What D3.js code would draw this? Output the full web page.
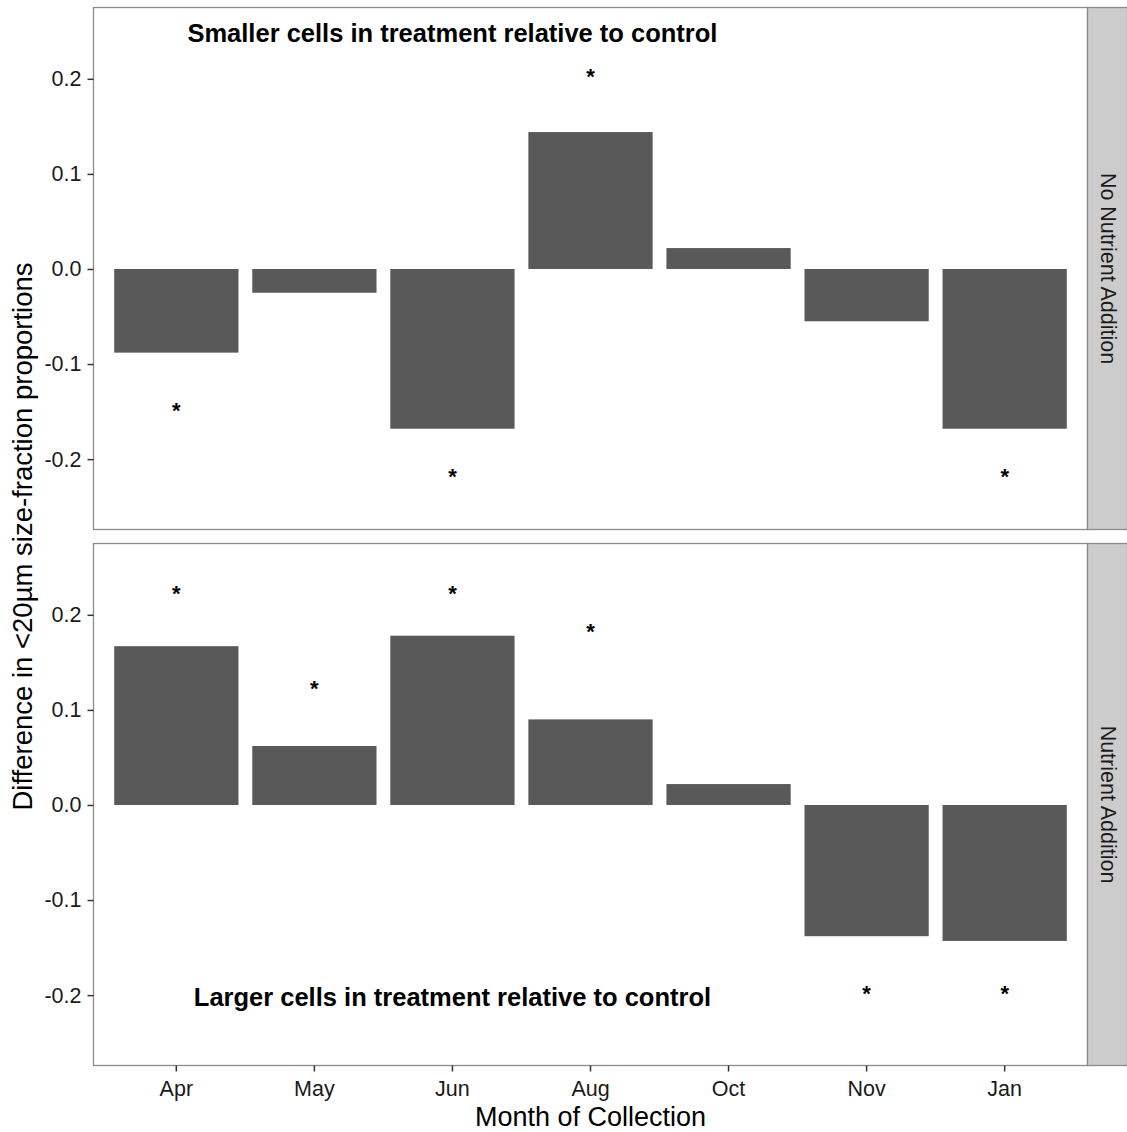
<!DOCTYPE html>
<html>
<head>
<meta charset="utf-8">
<script src="https://cdn.jsdelivr.net/npm/d3@7"></script>
<style>
  html, body { margin: 0; padding: 0; background: #fff; }
  svg { display: block; font-family: "Liberation Sans", Arial, sans-serif; }
</style>
</head>
<body>
<svg id="chart" width="1127" height="1132"></svg>
<script>
// Months of collection (x categories)
const months = ["Apr", "May", "Jun", "Aug", "Oct", "Nov", "Jan"];

// Facet labels
const facets = ["No Nutrient Addition", "Nutrient Addition"];

// Difference in <20µm size-fraction proportions, per facet
const noNutrientValues = [-0.088, -0.025, -0.168, 0.144, 0.022, -0.055, -0.168];
const nutrientValues   = [0.167, 0.062, 0.178, 0.090, 0.022, -0.138, -0.143];

// Significance markers: month and vertical position
const noNutrientStars = [
  { month: "Apr", y: -0.147 },
  { month: "Jun", y: -0.217 },
  { month: "Aug", y: 0.204 },
  { month: "Jan", y: -0.217 }
];
const nutrientStars = [
  { month: "Apr", y: 0.224 },
  { month: "May", y: 0.124 },
  { month: "Jun", y: 0.224 },
  { month: "Aug", y: 0.184 },
  { month: "Nov", y: -0.197 },
  { month: "Jan", y: -0.197 }
];

// Annotations inside the panels
const annotations = [
  { text: "Smaller cells in treatment relative to control", month: "Jun", y: 0.248 },
  { text: "Larger cells in treatment relative to control", month: "Jun", y: -0.202 }
];

const yTicks = [-0.2, -0.1, 0.0, 0.1, 0.2];
const yDomain = [-0.274, 0.275];

const svg = d3.select("#chart");

const plotLeft = 93.5, plotRight = 1087.5;
const stripWidth = 40;
const panelTops = [7.5, 543.5];
const panelHeight = 522;

// discrete axis: 0.6 units of expansion either side, bars 0.9 units wide
const x = d3.scaleBand()
  .domain(months)
  .range([plotLeft, plotRight])
  .paddingInner(0.1)
  .paddingOuter(0.15);

const fmtTick = v => d3.format(".1f")(v).replace("\u2212", "-");

const panelData = [
  { label: facets[0], values: noNutrientValues, stars: noNutrientStars, note: annotations[0] },
  { label: facets[1], values: nutrientValues, stars: nutrientStars, note: annotations[1] }
];

panelData.forEach((p, i) => {
  const top = panelTops[i];
  const y = d3.scaleLinear().domain(yDomain).range([top + panelHeight, top]);
  const g = svg.append("g");

  g.append("rect")
    .attr("x", plotLeft).attr("y", top)
    .attr("width", plotRight - plotLeft).attr("height", panelHeight)
    .attr("fill", "#fff");

  // bars
  g.selectAll("rect.bar")
    .data(months.map((m, k) => ({ month: m, value: p.values[k] })))
    .join("rect")
    .attr("class", "bar")
    .attr("x", d => x(d.month))
    .attr("width", x.bandwidth())
    .attr("y", d => y(Math.max(0, d.value)))
    .attr("height", d => Math.abs(y(d.value) - y(0)))
    .attr("fill", "#595959");

  // significance markers
  g.selectAll("text.star")
    .data(p.stars)
    .join("text")
    .attr("class", "star")
    .attr("x", d => x(d.month) + x.bandwidth() / 2)
    .attr("y", d => y(d.y) + 9)
    .attr("text-anchor", "middle")
    .attr("font-size", 22)
    .attr("font-weight", "bold")
    .attr("fill", "#000")
    .text("*");

  // annotation
  g.append("text")
    .attr("x", x(p.note.month) + x.bandwidth() / 2)
    .attr("y", y(p.note.y))
    .attr("text-anchor", "middle")
    .attr("dominant-baseline", "central")
    .attr("font-size", 25.5)
    .attr("font-weight", "bold")
    .attr("fill", "#000")
    .text(p.note.text);

  // panel border
  g.append("rect")
    .attr("x", plotLeft).attr("y", top)
    .attr("width", plotRight - plotLeft).attr("height", panelHeight)
    .attr("fill", "none")
    .attr("stroke", "#8c8c8c")
    .attr("stroke-width", 1.3);

  // y axis
  const yAxis = d3.axisLeft(y)
    .tickValues(yTicks)
    .tickFormat(fmtTick)
    .tickSize(6)
    .tickPadding(6);
  const ya = g.append("g")
    .attr("transform", `translate(${plotLeft},0)`)
    .call(yAxis);
  ya.select(".domain").remove();
  ya.selectAll(".tick line").attr("stroke", "#333").attr("stroke-width", 1.5);
  ya.selectAll(".tick text")
    .attr("font-size", 21.5)
    .attr("fill", "#1a1a1a")
    .attr("font-family", "Liberation Sans, Arial, sans-serif");

  // facet strip
  g.append("rect")
    .attr("x", plotRight).attr("y", top)
    .attr("width", stripWidth).attr("height", panelHeight)
    .attr("fill", "#cccccc")
    .attr("stroke", "#8c8c8c")
    .attr("stroke-width", 1.3);
  const sx = plotRight + stripWidth / 2, sy = top + panelHeight / 2;
  g.append("text")
    .attr("transform", `translate(${sx},${sy}) rotate(90)`)
    .attr("text-anchor", "middle")
    .attr("dominant-baseline", "central")
    .attr("font-size", 21.5)
    .attr("fill", "#1a1a1a")
    .text(p.label);
});

// x axis under the bottom panel
const bottom = panelTops[1] + panelHeight;
const xAxis = d3.axisBottom(x).tickSize(6).tickPadding(9);
const xa = svg.append("g")
  .attr("transform", `translate(0,${bottom})`)
  .call(xAxis);
xa.select(".domain").remove();
xa.selectAll(".tick line").attr("stroke", "#333").attr("stroke-width", 1.5);
xa.selectAll(".tick text")
  .attr("font-size", 21.5)
  .attr("fill", "#1a1a1a")
  .attr("font-family", "Liberation Sans, Arial, sans-serif");

// axis titles
svg.append("text")
  .attr("x", (plotLeft + plotRight) / 2)
  .attr("y", 1126)
  .attr("text-anchor", "middle")
  .attr("font-size", 27)
  .attr("fill", "#000")
  .text("Month of Collection");

svg.append("text")
  .attr("transform", `translate(32,${(panelTops[0] + bottom) / 2}) rotate(-90)`)
  .attr("text-anchor", "middle")
  .attr("font-size", 27.5)
  .attr("fill", "#000")
  .text("Difference in <20µm size-fraction proportions");
</script>
</body>
</html>
